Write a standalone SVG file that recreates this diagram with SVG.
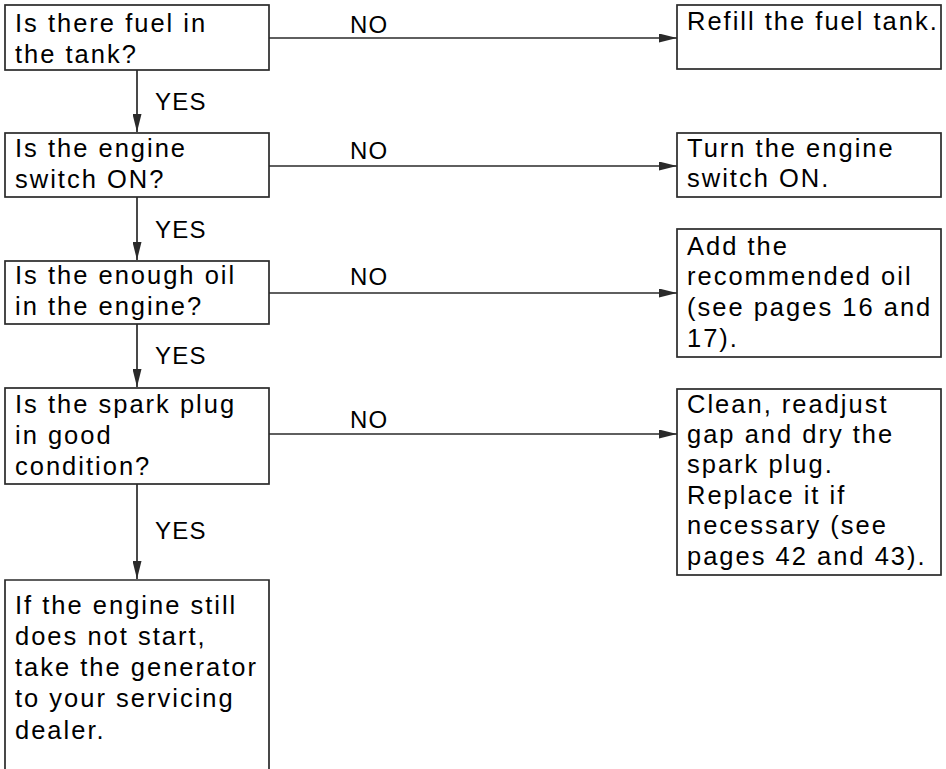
<svg xmlns="http://www.w3.org/2000/svg" width="946" height="769" viewBox="0 0 946 769">
<style>
  .box { fill: #fff; stroke: #2a2a2a; stroke-width: 1.7; }
  .t { font-family: "Liberation Sans", Arial, sans-serif; font-size: 25.5px; letter-spacing: 2px; fill: #000; }
  .lbl { font-family: "Liberation Sans", Arial, sans-serif; font-size: 24px; letter-spacing: 1.2px; fill: #000; }
  .c { stroke: #2a2a2a; stroke-width: 1.7; fill: none; }
</style>
<defs>
  <marker id="ah" viewBox="0 0 18 9" refX="18" refY="4.5" markerWidth="18" markerHeight="9" markerUnits="userSpaceOnUse" orient="auto">
    <path d="M0,0 L18,4.5 L0,9 Z" fill="#2a2a2a"/>
  </marker>
</defs>
<rect width="946" height="769" fill="#fff"/>

<g id="connectors">
  <line class="c" x1="269" y1="38" x2="677" y2="38" marker-end="url(#ah)"/>
  <line class="c" x1="269" y1="166" x2="677" y2="166" marker-end="url(#ah)"/>
  <line class="c" x1="269" y1="293" x2="677" y2="293" marker-end="url(#ah)"/>
  <line class="c" x1="269" y1="434" x2="677" y2="434" marker-end="url(#ah)"/>
  <line class="c" x1="137" y1="70" x2="137" y2="132" marker-end="url(#ah)"/>
  <line class="c" x1="137" y1="197" x2="137" y2="260" marker-end="url(#ah)"/>
  <line class="c" x1="137" y1="324" x2="137" y2="387" marker-end="url(#ah)"/>
  <line class="c" x1="137" y1="484" x2="137" y2="579" marker-end="url(#ah)"/>
  <text class="lbl" x="350" y="33">NO</text>
  <text class="lbl" x="350" y="159">NO</text>
  <text class="lbl" x="350" y="285">NO</text>
  <text class="lbl" x="350" y="428">NO</text>
  <text class="lbl" x="155" y="110">YES</text>
  <text class="lbl" x="155" y="238">YES</text>
  <text class="lbl" x="155" y="364">YES</text>
  <text class="lbl" x="155" y="539">YES</text>
</g>

<g id="q1">
  <rect class="box" x="5" y="5" width="264" height="65"/>
  <text class="t" x="15" y="32">Is there fuel in</text>
  <text class="t" x="15" y="63">the tank?</text>
</g>
<g id="q2">
  <rect class="box" x="5" y="133" width="264" height="64"/>
  <text class="t" x="15" y="157">Is the engine</text>
  <text class="t" x="15" y="188">switch ON?</text>
</g>
<g id="q3">
  <rect class="box" x="5" y="261" width="264" height="63"/>
  <text class="t" x="15" y="284">Is the enough oil</text>
  <text class="t" x="15" y="315">in the engine?</text>
</g>
<g id="q4">
  <rect class="box" x="5" y="388" width="264" height="96"/>
  <text class="t" x="15" y="413">Is the spark plug</text>
  <text class="t" x="15" y="444">in good</text>
  <text class="t" x="15" y="475">condition?</text>
</g>
<g id="final">
  <path class="c" d="M5,775 L5,580 L269,580 L269,775" style="fill:#fff"/>
  <text class="t" x="15" y="614">If the engine still</text>
  <text class="t" x="15" y="645">does not start,</text>
  <text class="t" x="15" y="676">take the generator</text>
  <text class="t" x="15" y="707">to your servicing</text>
  <text class="t" x="15" y="739">dealer.</text>
</g>

<g id="a1">
  <rect class="box" x="677" y="5" width="264" height="64"/>
  <text class="t" x="687" y="30">Refill the fuel tank.</text>
</g>
<g id="a2">
  <rect class="box" x="677" y="133" width="264" height="64"/>
  <text class="t" x="687" y="157">Turn the engine</text>
  <text class="t" x="687" y="187">switch ON.</text>
</g>
<g id="a3">
  <rect class="box" x="677" y="229" width="264" height="128"/>
  <text class="t" x="687" y="255">Add the</text>
  <text class="t" x="687" y="285">recommended oil</text>
  <text class="t" x="687" y="316">(see pages 16 and</text>
  <text class="t" x="687" y="347">17).</text>
</g>
<g id="a4">
  <rect class="box" x="677" y="389" width="264" height="186"/>
  <text class="t" x="687" y="413">Clean, readjust</text>
  <text class="t" x="687" y="443">gap and dry the</text>
  <text class="t" x="687" y="473">spark plug.</text>
  <text class="t" x="687" y="504">Replace it if</text>
  <text class="t" x="687" y="534">necessary (see</text>
  <text class="t" x="687" y="565">pages 42 and 43).</text>
</g>
</svg>
